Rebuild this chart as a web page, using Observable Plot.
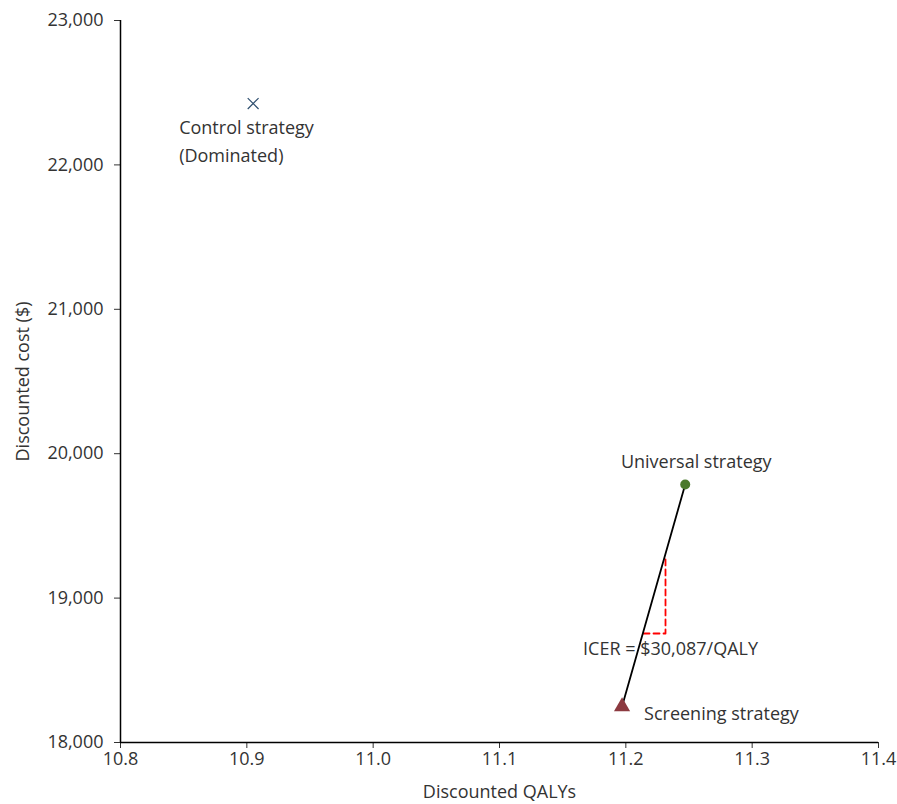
<!DOCTYPE html>
<html><head><meta charset="utf-8">
<script src="https://cdn.jsdelivr.net/npm/d3@7"></script>
<script src="https://cdn.jsdelivr.net/npm/@observablehq/plot@0.6"></script>
<style>
body{margin:0;background:#fff;}
svg{font-family:"Open Sans",sans-serif;}
</style>
</head><body><div id="chart"></div>
<script>
const strategies = ["Control strategy", "Universal strategy", "Screening strategy"];
const qalys = [10.905, 11.247, 11.197];
const costs = [22425, 19787, 18249];
const xTicks = [10.8, 10.9, 11.0, 11.1, 11.2, 11.3, 11.4];
const yTicks = [18000, 19000, 20000, 21000, 22000, 23000];
const icerLabel = "ICER = $30,087/QALY";
const triangleX = [11.214, 11.2314, 11.2314];
const triangleY = [18755, 18755, 19274];

const pts = strategies.map((s, i) => ({name: s, x: qalys[i], y: costs[i]}));
const tri = triangleX.map((x, i) => ({x, y: triangleY[i]}));

const plot = Plot.plot({
  width: 897, height: 804,
  marginLeft: 120, marginRight: 19, marginTop: 20, marginBottom: 62,
  style: {fontFamily: "Open Sans, sans-serif", fontSize: "16px", background: "#fff", color: "#333"},
  x: {domain: [10.8, 11.4]},
  y: {domain: [18000, 23000]},
  marks: [
    Plot.axisX({ticks: xTicks, tickFormat: d3.format(".1f"), tickSize: 6, tickPadding: 4, color: "#333", label: "Discounted QALYs", labelAnchor: "center", labelArrow: "none", labelOffset: 55}),
    Plot.axisY({ticks: yTicks, tickFormat: d3.format(",d"), tickSize: 6, tickPadding: 11, color: "#333", label: "Discounted cost ($)", labelAnchor: "center", labelArrow: "none", labelOffset: 104}),
    Plot.ruleX([10.8], {stroke: "#000", strokeWidth: 1.5}),
    Plot.ruleY([18000], {stroke: "#000", strokeWidth: 1.5}),
    Plot.line(tri, {x: "x", y: "y", stroke: "#ff0000", strokeWidth: 1.8, strokeDasharray: "6,4"}),
    Plot.line([pts[2], pts[1]], {x: "x", y: "y", stroke: "#000", strokeWidth: 1.8}),
    Plot.dot([pts[0]], {x: "x", y: "y", symbol: "times", r: 5, stroke: "#2f4f6f", strokeWidth: 1.2}),
    Plot.dot([pts[1]], {x: "x", y: "y", symbol: "circle", r: 5, fill: "#4b7a2c", stroke: "none"}),
    Plot.dot([pts[2]], {x: "x", y: "y", symbol: "triangle", r: 6, fill: "#8c3a40", stroke: "none"}),
    Plot.text([pts[0]], {x: "x", y: "y", text: () => "Control strategy\n(Dominated)", textAnchor: "start", lineAnchor: "top", dx: -74, dy: 11, fontSize: 18, fill: "#333", lineHeight: 1.55}),
    Plot.text([pts[1]], {x: "x", y: "y", text: "name", textAnchor: "middle", dx: 11, dy: -22, fontSize: 18, fill: "#333"}),
    Plot.text([pts[2]], {x: "x", y: "y", text: "name", textAnchor: "start", dx: 22, dy: 8, fontSize: 18, fill: "#333"}),
    Plot.text([{x: 11.197, y: 18249}], {x: "x", y: "y", text: () => icerLabel, textAnchor: "start", dx: -39, dy: -57, fontSize: 18, fill: "#333"})
  ]
});
d3.select(plot).selectAll('g[aria-label$="tick label"]').attr("font-size", 18).selectAll("text").attr("font-size", 18);
d3.select(plot).selectAll('g[aria-label$="axis label"]').attr("font-size", 18).selectAll("text").attr("font-size", 18);
document.getElementById("chart").appendChild(plot);
</script></body></html>
